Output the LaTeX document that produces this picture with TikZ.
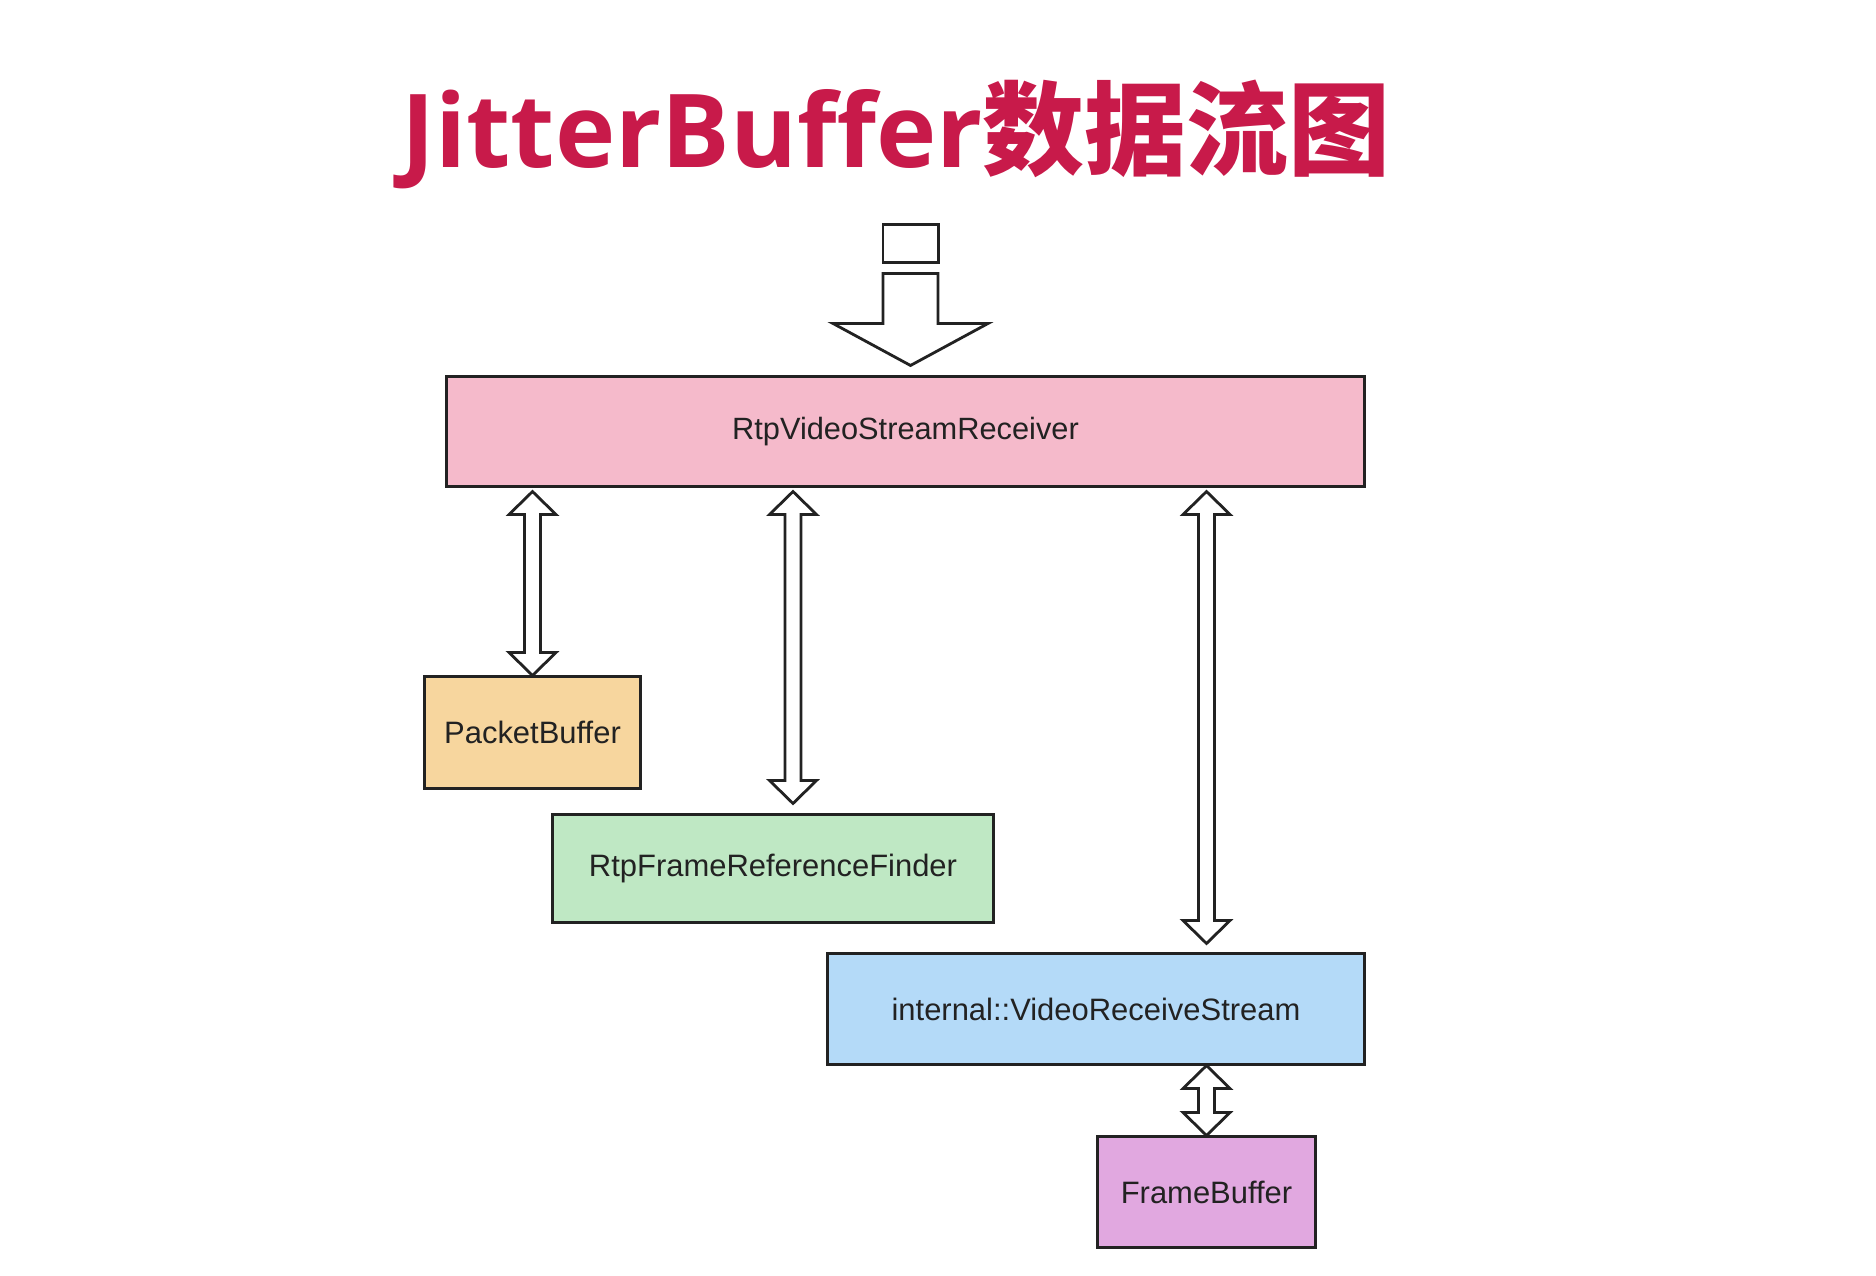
\documentclass[tikz,border=0pt]{standalone}
\usepackage{fontspec}
\usepackage{tikz}
\usetikzlibrary{calc}
\newfontfamily\boxfont{Liberation Sans}
\newfontfamily\titlelat{Open Sans}
\newfontfamily\titlecjk{Noto Sans CJK SC}
\definecolor{titlered}{RGB}{200,26,74}
\definecolor{pinkfill}{RGB}{245,186,203}
\definecolor{orangefill}{RGB}{247,214,158}
\definecolor{greenfill}{RGB}{191,232,196}
\definecolor{bluefill}{RGB}{180,218,248}
\definecolor{purplefill}{RGB}{225,168,224}
\definecolor{ink}{RGB}{34,34,34}
\tikzset{
  box/.style={draw=ink, line width=0.85pt, inner sep=0pt, text=ink,
    font={\boxfont\fontsize{8.8}{10}\selectfont}},
  dblarrow/.style={draw=ink, fill=white, line width=0.8pt, line join=miter,
    to path={let \p1=(\tikztostart), \p2=(\tikztotarget) in
      (\x1,\y1) -- (\x1+0.235cm,\y1-0.23cm) -- (\x1+0.08cm,\y1-0.23cm)
      -- (\x1+0.08cm,\y2+0.23cm) -- (\x1+0.235cm,\y2+0.23cm) -- (\x1,\y2)
      -- (\x1-0.235cm,\y2+0.23cm) -- (\x1-0.08cm,\y2+0.23cm)
      -- (\x1-0.08cm,\y1-0.23cm) -- (\x1-0.235cm,\y1-0.23cm) -- cycle}},
  bigarrow/.style={draw=ink, fill=white, line width=0.8pt, line join=miter,
    to path={let \p1=(\tikztostart), \p2=(\tikztotarget) in
      (\x1-0.275cm,\y1) -- (\x1+0.275cm,\y1) -- (\x1+0.275cm,\y2+0.42cm)
      -- (\x1+0.775cm,\y2+0.42cm) -- (\x1,\y2) -- (\x1-0.775cm,\y2+0.42cm)
      -- (\x1-0.275cm,\y2+0.42cm) -- cycle}}
}
\begin{document}
\begin{tikzpicture}[x=0.01cm,y=-0.01cm]
	\useasboundingbox[fill=white] (0,0) rectangle (1876,1276);
	\node[anchor=base west, text=titlered, inner sep=0pt] (title) at (401,168)
		{\titlelat\bfseries\fontsize{29}{34}\selectfont JitterBuffer\titlecjk\fontsize{29}{34}\selectfont 数据流图};
	\node[box, minimum width=0.55cm, minimum height=0.37cm] (src) at (910.5,243.5) {};
	\node[box, fill=pinkfill, minimum width=9.17cm, minimum height=1.09cm] (rvsr) at (905.5,431.5)
		{\raisebox{-1pt}{\fontsize{8.75}{10}\selectfont RtpVideoStreamReceiver}};
	\node[box, fill=orangefill, minimum width=2.15cm, minimum height=1.11cm] (pbuf) at (532.5,732.5) {PacketBuffer};
	\node[box, fill=greenfill, minimum width=4.40cm, minimum height=1.07cm] (rfrf) at (773,868.5) {RtpFrameReferenceFinder};
	\node[box, fill=bluefill, minimum width=5.36cm, minimum height=1.10cm] (vrs) at (1096,1009) {internal::VideoReceiveStream};
	\node[box, fill=purplefill, minimum width=2.17cm, minimum height=1.10cm] (fbuf) at (1206.5,1192) {FrameBuffer};

	\coordinate (in1) at ($(src.south)+(0,10)$);
	\coordinate (in2) at ($(src.south |- rvsr.north)+(0,-10)$);
	\coordinate (p1) at ($(rvsr.south -| pbuf.north)+(0,4)$);
	\coordinate (f2) at ($(rfrf.north)+(20,-10)$);
	\coordinate (f1) at ($(rvsr.south -| f2)+(0,4)$);
	\coordinate (v1) at ($(rvsr.south -| fbuf.north)+(0,4)$);
	\coordinate (v2) at ($(vrs.north -| fbuf.north)+(0,-9)$);
	\coordinate (b1) at (vrs.south -| fbuf.north);

	\draw[bigarrow] (in1) to (in2);
	\draw[dblarrow] (p1) to (pbuf.north);
	\draw[dblarrow] (f1) to (f2);
	\draw[dblarrow] (v1) to (v2);
	\draw[dblarrow] (b1) to (fbuf.north);
\end{tikzpicture}
\end{document}
